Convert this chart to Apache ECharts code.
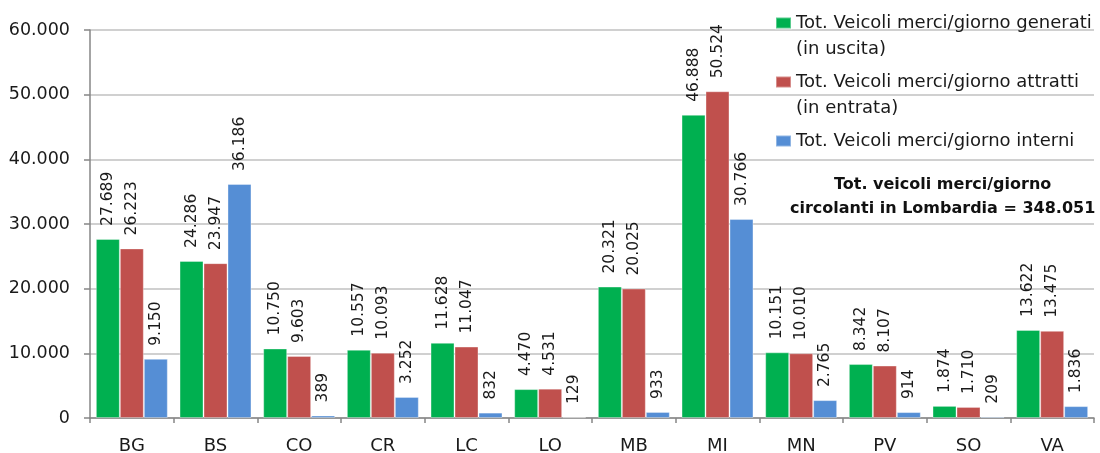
<!DOCTYPE html>
<html>
<head>
<meta charset="utf-8">
<script src="https://cdn.jsdelivr.net/npm/echarts@6/dist/echarts.min.js"></script>
<style>
  html, body { margin: 0; padding: 0; background: #fff; }
  #chart { width: 1100px; height: 453px; }
</style>
</head>
<body>
<div id="chart"></div>
<script>
// Province codes (Lombardia)
const provinces = ['BG', 'BS', 'CO', 'CR', 'LC', 'LO', 'MB', 'MI', 'MN', 'PV', 'SO', 'VA'];

// Freight vehicles per day
const generati = [27689, 24286, 10750, 10557, 11628, 4470, 20321, 46888, 10151, 8342, 1874, 13622];
const attratti = [26223, 23947, 9603, 10093, 11047, 4531, 20025, 50524, 10010, 8107, 1710, 13475];
const interni  = [9150, 36186, 389, 3252, 832, 129, 933, 30766, 2765, 914, 209, 1836];

const seriesNames = [
  'Tot. Veicoli merci/giorno generati',
  'Tot. Veicoli merci/giorno attratti',
  'Tot. Veicoli merci/giorno interni'
];
const seriesNotes = ['(in uscita)', '(in entrata)', ''];
const totalNote = 'Tot. veicoli merci/giorno\ncircolanti in Lombardia = 348.051';

const yTicks = { min: 0, max: 60000, interval: 10000 };

const FONT = 'DejaVu Sans';
const fmt = v => String(Math.round(v)).replace(/\B(?=(\d{3})+(?!\d))/g, '.');

const colors = ['#00B050', '#C0504D', '#558ED5'];
const seriesData = [generati, attratti, interni];

// Legend entries are three text rows tall (blank, name, note) so the
// swatch, which is centred on the block, lines up with the name row.
const LH = 26;

const chart = echarts.init(document.getElementById('chart'), null, { renderer: 'canvas' });

chart.setOption({
  animation: false,
  color: colors,
  textStyle: { fontFamily: FONT },
  grid: { left: 90, right: 6, top: 30, bottom: 35, containLabel: false, outerBoundsMode: 'none' },
  legend: {
    orient: 'vertical',
    left: 775,
    top: -16,
    padding: 0,
    itemWidth: 15,
    itemHeight: 11,
    itemGap: -19,
    icon: 'rect',
    data: seriesNames,
    formatter: name => {
      const i = seriesNames.indexOf(name);
      return '\n' + name + '\n' + seriesNotes[i];
    },
    textStyle: {
      fontFamily: FONT, fontSize: 18, color: '#1a1a1a', lineHeight: LH,
      backgroundColor: 'rgba(255,255,255,0)'
    }
  },
  xAxis: {
    type: 'category',
    data: provinces,
    axisLine: { lineStyle: { color: '#868686', width: 1.5 } },
    axisTick: { show: true, length: 5, lineStyle: { color: '#868686', width: 1.5 } },
    axisLabel: { margin: 19, fontFamily: FONT, fontSize: 18, color: '#1a1a1a' }
  },
  yAxis: {
    type: 'value',
    min: yTicks.min,
    max: yTicks.max,
    interval: yTicks.interval,
    axisLine: { show: true, lineStyle: { color: '#868686', width: 1.5 } },
    axisTick: { show: true, length: 6, lineStyle: { color: '#868686', width: 1.5 } },
    splitLine: { lineStyle: { color: '#c0c0c0', width: 1.5 } },
    axisLabel: { margin: 20, fontFamily: FONT, fontSize: 17.5, color: '#1a1a1a', formatter: fmt }
  },
  series: seriesNames.map((name, i) => ({
    name,
    type: 'bar',
    data: seriesData[i],
    barGap: '0%',
    barCategoryGap: '14%',
    itemStyle: { color: colors[i], borderColor: 'rgba(255,255,255,0.35)', borderWidth: 1 },
    label: {
      show: true,
      position: 'top',
      distance: 13,
      rotate: 90,
      align: 'left',
      verticalAlign: 'middle',
      fontFamily: FONT,
      fontSize: 15.5,
      color: '#1a1a1a',
      formatter: p => fmt(p.value)
    }
  })),
  graphic: [{
    type: 'text',
    left: 944 - 154,
    top: 173,
    style: {
      text: totalNote,
      x: 154,
      textAlign: 'center',
      fontFamily: FONT,
      fontWeight: 'bold',
      fontSize: 16,
      lineHeight: 24,
      fill: '#111'
    }
  }]
});
</script>
</body>
</html>
